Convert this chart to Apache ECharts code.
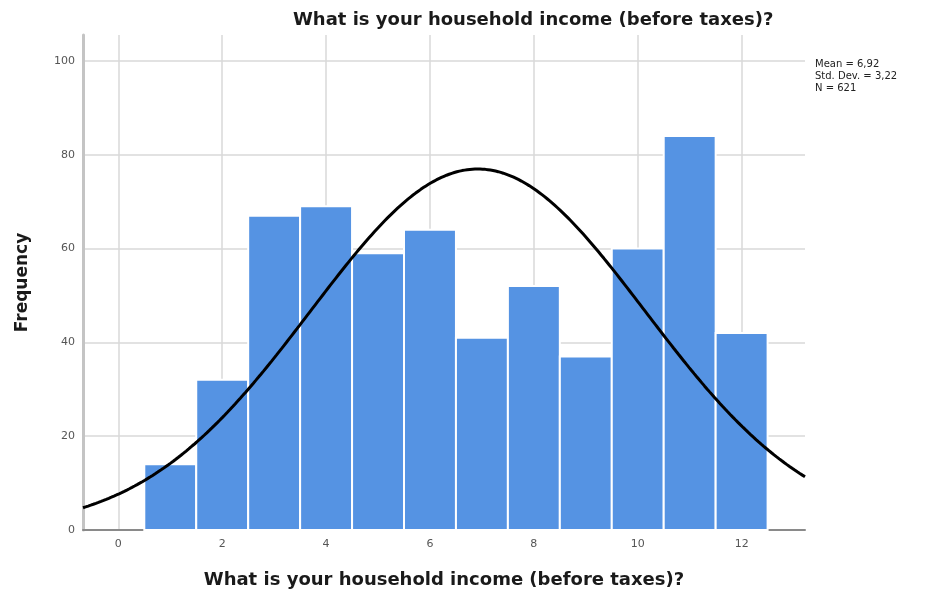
<!DOCTYPE html>
<html>
<head>
<meta charset="utf-8">
<script src="https://cdn.jsdelivr.net/npm/echarts@6/dist/echarts.min.js"></script>
<style>
  html, body { margin: 0; padding: 0; background: #fff; }
  #chart { width: 927px; height: 597px; }
</style>
</head>
<body>
<div id="chart"></div>
<script>
// Income categories (bin centres) and the number of respondents in each
const categories = [1, 2, 3, 4, 5, 6, 7, 8, 9, 10, 11, 12];
const frequencies = [14, 32, 67, 69, 59, 64, 41, 52, 37, 60, 84, 42];

// Summary statistics printed beside the plot
const statMean = 6.92;
const statStdDev = 3.22;
const statN = 621;
const statLines = ['Mean = 6,92', 'Std. Dev. = 3,22', 'N = 621'];

// Axis tick values
const xTicks = [0, 2, 4, 6, 8, 10, 12];
const yTicks = [0, 20, 40, 60, 80, 100];

const titleText = 'What is your household income (before taxes)?';

const xMin = -0.68, xMax = 13.22;

// Fitted normal curve scaled to counts per unit-wide bin
const curve = [];
const steps = 280;
for (let i = 0; i <= steps; i++) {
  const x = xMin + (xMax - xMin) * i / steps;
  const z = (x - statMean) / statStdDev;
  const y = statN / (statStdDev * Math.sqrt(2 * Math.PI)) * Math.exp(-0.5 * z * z);
  curve.push([x, y]);
}

const barData = categories.map((c, i) => [c, frequencies[i]]);

const chart = echarts.init(document.getElementById('chart'), null, { renderer: 'canvas' });

const boldText = { fontFamily: 'DejaVu Sans', fontWeight: 'bold', fontSize: 18, color: '#1a1a1a' };

chart.setOption({
  animation: false,
  backgroundColor: '#fff',
  title: {
    text: titleText,
    left: 288,
    top: 6,
    textStyle: boldText
  },
  graphic: [{
    type: 'text',
    left: 815,
    top: 58,
    style: {
      text: statLines.join('\n'),
      font: '10px "DejaVu Sans"',
      lineHeight: 12,
      fill: '#222'
    }
  }],
  grid: { left: 83, right: 122, top: 35, bottom: 67 },
  xAxis: {
    type: 'value',
    min: xMin,
    max: xMax,
    name: titleText,
    nameLocation: 'middle',
    nameGap: 41,
    nameTextStyle: boldText,
    axisLine: { show: true, onZero: false, lineStyle: { color: '#8a8a8a', width: 2 } },
    axisTick: { show: false, customValues: xTicks },
    axisLabel: { customValues: xTicks, color: '#555', fontSize: 11, fontFamily: 'DejaVu Sans', margin: 9 },
    splitLine: { show: true, lineStyle: { color: '#d9d9d9', width: 1.5 } }
  },
  yAxis: {
    type: 'value',
    min: 0,
    max: 105.5,
    name: 'Frequency',
    nameLocation: 'middle',
    nameGap: 52,
    nameTextStyle: Object.assign({}, boldText, { fontSize: 17 }),
    axisLine: { show: true, onZero: false, lineStyle: { color: '#c4c4c4', width: 3 } },
    axisTick: { show: false, customValues: yTicks },
    axisLabel: { customValues: yTicks, color: '#555', fontSize: 11, fontFamily: 'DejaVu Sans', margin: 8 },
    splitLine: { show: true, lineStyle: { color: '#d9d9d9', width: 1.5 } }
  },
  series: [{
    type: 'custom',
    data: barData,
    encode: { x: 0, y: 1 },
    renderItem: function (params, api) {
      const c = api.value(0);
      const v = api.value(1);
      const p0 = api.coord([c - 0.5, 0]);
      const p1 = api.coord([c + 0.5, v]);
      return {
        type: 'rect',
        shape: { x: p0[0], y: p1[1], width: p1[0] - p0[0], height: p0[1] - p1[1] },
        style: { fill: '#5593e3', stroke: '#ffffff', lineWidth: 2 }
      };
    },
    z: 2
  }, {
    type: 'line',
    data: curve,
    showSymbol: false,
    smooth: false,
    lineStyle: { color: '#000', width: 3 },
    z: 3
  }]
});
</script>
</body>
</html>
